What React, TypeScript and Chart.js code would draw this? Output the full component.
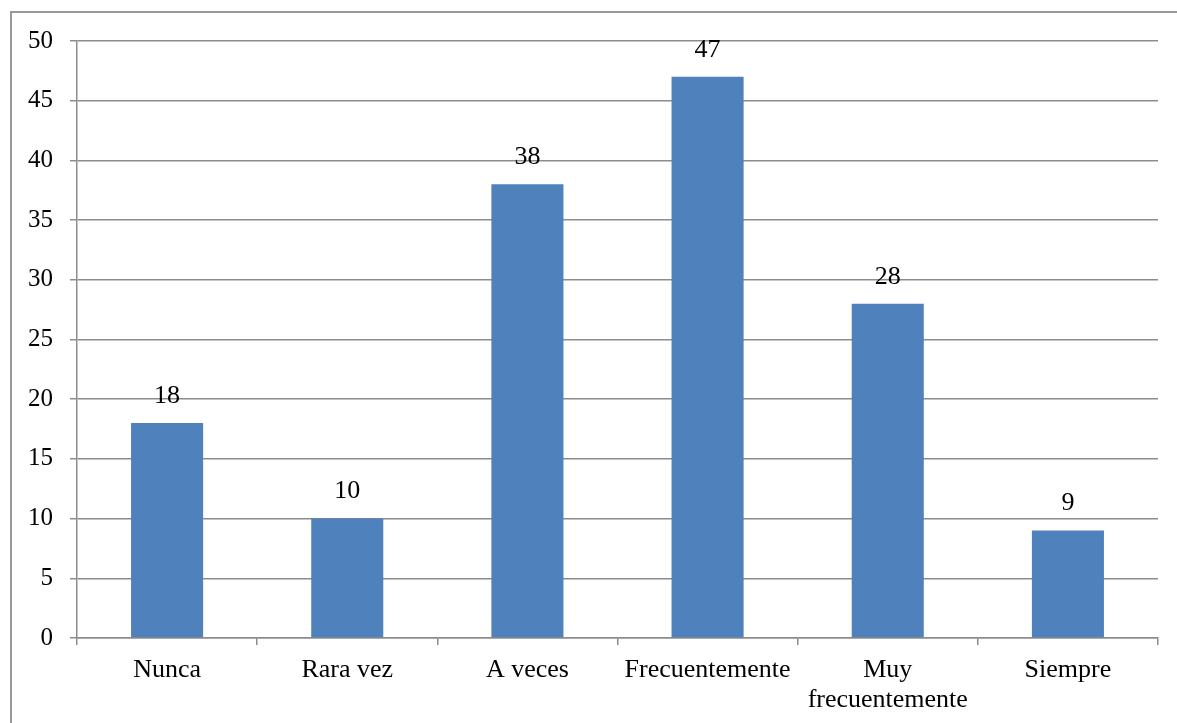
import React, { useEffect, useRef } from "react";
import { Chart, registerables } from "chart.js";

Chart.register(...registerables);

const categories: (string | string[])[] = [
  "Nunca",
  "Rara vez",
  "A veces",
  "Frecuentemente",
  ["Muy", "frecuentemente"],
  "Siempre",
];
const values: number[] = [18, 10, 38, 47, 28, 9];
const yMin = 0;
const yMax = 50;
const yStep = 5;

const FONT = '"Liberation Serif", "Times New Roman", serif';
const GRID = "#8c8c8c";

const dataLabels = {
  id: "dataLabels",
  afterDatasetsDraw(chart: any) {
    const ctx = chart.ctx;
    const meta = chart.getDatasetMeta(0);
    ctx.save();
    ctx.font = `26px ${FONT}`;
    ctx.fillStyle = "#000";
    ctx.textAlign = "center";
    ctx.textBaseline = "middle";
    meta.data.forEach((bar: any, i: number) => {
      ctx.fillText(String(values[i]), bar.x, bar.y - 27);
    });
    ctx.restore();
  },
};

export default function App() {
  const ref = useRef<HTMLCanvasElement>(null);
  useEffect(() => {
    if (!ref.current) return;
    const chart = new Chart(ref.current, {
      type: "bar",
      data: {
        labels: categories,
        datasets: [
          {
            data: values,
            backgroundColor: "#4F81BD",
            borderWidth: 0,
            categoryPercentage: 1,
            barPercentage: 0.4,
          },
        ],
      },
      options: {
        animation: false,
        responsive: false,
        devicePixelRatio: 1,
        layout: { padding: { top: 41, right: 19, left: 0, bottom: 0 } },
        plugins: {
          legend: { display: false },
          tooltip: { enabled: false },
        },
        scales: {
          x: {
            afterFit: (s: any) => {
              s.height = 85;
            },
            grid: {
              display: true,
              drawOnChartArea: false,
              drawTicks: true,
              tickLength: 7,
              offset: true,
              color: GRID,
              lineWidth: 1.5,
            },
            border: { display: true, color: GRID, width: 1.5 },
            ticks: {
              color: "#000",
              font: { family: FONT, size: 26, lineHeight: 1.15 },
              padding: 10,
              maxRotation: 0,
              autoSkip: false,
            },
          },
          y: {
            min: yMin,
            max: yMax,
            afterFit: (s: any) => {
              s.width = 77;
            },
            grid: {
              color: GRID,
              lineWidth: 1.5,
              tickLength: 7,
            },
            border: { display: true, color: GRID, width: 1.5 },
            ticks: {
              stepSize: yStep,
              color: "#000",
              font: { family: FONT, size: 25 },
              padding: 17,
            },
          },
        },
      },
      plugins: [dataLabels],
    });
    return () => chart.destroy();
  }, []);

  return (
    <div
      style={{
        position: "fixed",
        left: 0,
        top: 0,
        width: 1177,
        height: 723,
        overflow: "hidden",
        background: "#fff",
      }}
    >
      <div
        style={{
          position: "absolute",
          left: 10,
          top: 11,
          width: 1300,
          height: 900,
          border: "2px solid #999",
          boxSizing: "border-box",
        }}
      />
      <canvas
        ref={ref}
        width={1177}
        height={723}
        style={{ position: "absolute", left: 0, top: 0, width: 1177, height: 723 }}
      />
    </div>
  );
}
